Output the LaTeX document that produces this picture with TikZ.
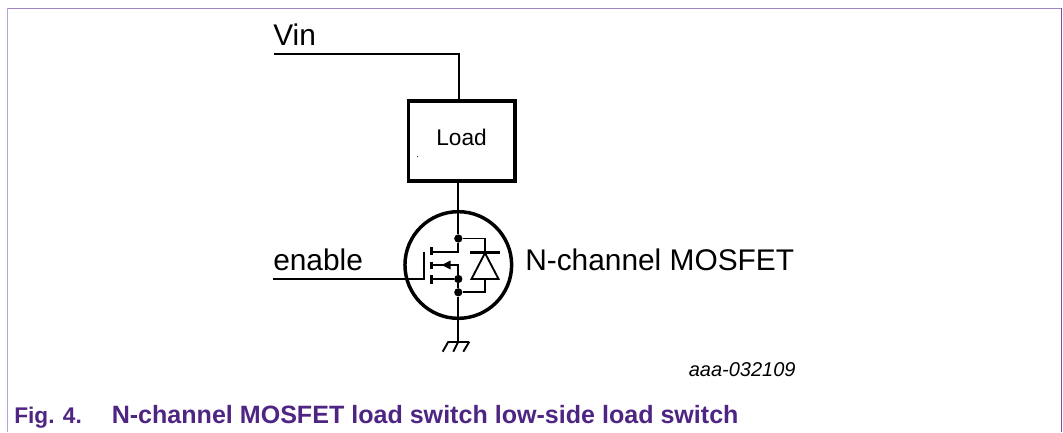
\documentclass[tikz,border=0pt]{standalone}
\usepackage{fontspec}
\setmainfont{Liberation Sans}
\definecolor{nxpframe}{HTML}{7A4FA8}
\definecolor{nxpleft}{HTML}{B8A3D6}
\definecolor{nxptext}{HTML}{4F2583}
\newcommand{\fsz}[1]{\fontsize{#1}{#1}\selectfont}
\tikzset{
  wire/.style={draw=black,line width=1.4pt},
  heavy/.style={draw=black,line width=2.6pt},
  junction/.style={circle,fill=black,inner sep=0pt,minimum size=6.2pt},
  label/.style={inner sep=0pt,anchor=base west,text=black},
}
\begin{document}
\begin{tikzpicture}[x=0.75pt,y=-0.75pt]
\useasboundingbox (0,0) rectangle (1063,432);
% frame
\draw[nxpleft,line width=0.9pt] (7.5,432) -- (7.5,8);
\draw[nxpframe!70,line width=0.75pt] (7.5,8) -- (1061.3,8);
\draw[nxpframe,line width=0.9pt] (1061.3,8) -- (1061.3,432);
% labels
\node[label,font=\fsz{22.4}] (vin) at (273,45.5) {Vin};
\node[label,font=\fsz{22.4}] (enable) at (273,270) {enable};
\node[label,font=\fsz{22.4}] (nch) at (525,270) {N-channel MOSFET};
\node[label,font=\fsz{15}\itshape] (aaa) at (688.5,376) {aaa-032109};
\node[label,font=\fsz{17}\bfseries,text=nxptext] (fig) at (14,423.3) {Fig. 4.};
\node[label,font=\fsz{18.8}\bfseries,text=nxptext] (cap) at (111.5,423.3) {N-channel MOSFET load switch low-side load switch};
% load
\node[heavy,line width=2.8pt,draw,minimum width=80pt,minimum height=60pt,inner sep=0pt] (load) at (461.7,141) {};
\node[inner sep=0pt,anchor=base,font=\fsz{17}] (loadtxt) at (461.5,145.7) {Load};
\fill (417.7,156.7) circle (0.4pt);
% vin wire
\coordinate (vs) at (274,54);
\coordinate (vc) at (459,54);
\coordinate (lt) at (459,100);
\coordinate (lb) at (458.3,182);
\draw[wire,line width=1.2pt] (vs) -- (vc) -- (lt);
% mosfet
\node[circle,draw=black,line width=2.6pt,minimum size=80pt,inner sep=0pt] (fet) at (458.3,265) {};
\node[junction] (j1) at (458.3,238.5) {};
\node[junction] (j2) at (458.3,279) {};
\node[junction] (j3) at (458.3,292.3) {};
\coordinate (gnd) at (458.3,341.7);
\draw[wire] (lb) -- (j1);
\draw[wire] (j1) -- (458.3,251.7) -- (433,251.7);
\draw[wire] (433,265) -- (458.3,265) -- (j2);
\draw[wire] (433,279) -- (j2);
\draw[wire] (j2) -- (j3) -- (gnd);
\draw[heavy] (431.7,247.3) -- (431.7,255);
\draw[heavy] (431.7,261.7) -- (431.7,269.3);
\draw[heavy] (431.7,275) -- (431.7,284);
\fill (441.7,265) -- (450.7,260.5) -- (450.7,269.5) -- cycle;
\coordinate (gs) at (273,279);
\draw[wire] (gs) -- (424.3,279) -- (424.3,251.7);
% diode
\draw[wire] (j1) -- (485,238.5) -- (485,252);
\draw[wire] (485,279) -- (485,292.3) -- (j3);
\draw[heavy] (470,252.3) -- (500,252.3);
\draw[wire,line join=miter] (485,253) -- (471.5,279) -- (498.5,279) -- cycle;
% ground
\draw[wire] (448.3,341.7) -- (469.3,341.7);
\draw[wire] (448.3,341.7) -- (442.7,351.7);
\draw[wire] (gnd) -- (453.3,351.7);
\draw[wire] (469.3,341.7) -- (463.3,351.7);
\end{tikzpicture}
\end{document}
